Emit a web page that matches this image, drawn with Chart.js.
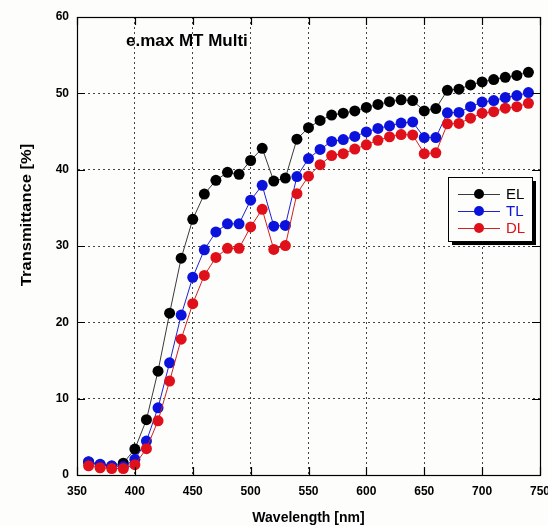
<!DOCTYPE html>
<html>
<head>
<meta charset="utf-8">
<script src="https://cdn.jsdelivr.net/npm/chart.js@4.4.1/dist/chart.umd.min.js"></script>
<style>
    html, body { margin: 0; padding: 0; background: #fdfdfb; }
    #wrap { width: 548px; height: 526px; }
</style>
</head>
<body>
<div id="wrap"><canvas id="transChart" width="548" height="526"></canvas></div>
<script>
// Wavelength grid [nm]
const wavelengths = [360, 370, 380, 390, 400, 410, 420, 430, 440, 450, 460, 470, 480, 490, 500,
    510, 520, 530, 540, 550, 560, 570, 580, 590, 600, 610, 620, 630, 640, 650,
    660, 670, 680, 690, 700, 710, 720, 730, 740];

// Transmittance [%] per series
const elValues = [1.7, 1.35, 1.15, 1.55, 3.4, 7.25, 13.6, 21.2, 28.4, 33.5, 36.8, 38.6, 39.65, 39.4, 41.2,
    42.8, 38.5, 38.9, 44.0, 45.5, 46.45, 47.15, 47.4, 47.7, 48.15, 48.55, 48.9, 49.15, 49.05, 47.7,
    48.0, 50.4, 50.55, 51.1, 51.5, 51.8, 52.1, 52.35, 52.75];
const tlValues = [1.75, 1.4, 1.2, 1.1, 2.05, 4.45, 8.8, 14.7, 20.95, 25.9, 29.5, 31.85, 32.9, 32.9, 36.0,
    37.95, 32.6, 32.7, 39.1, 41.45, 42.65, 43.7, 43.95, 44.35, 44.95, 45.4, 45.75, 46.1, 46.25, 44.2,
    44.2, 47.45, 47.5, 48.25, 48.85, 49.05, 49.45, 49.7, 50.1];
const dlValues = [1.2, 0.95, 0.85, 0.85, 1.35, 3.45, 7.1, 12.3, 17.8, 22.45, 26.15, 28.5, 29.7, 29.7, 32.5,
    34.8, 29.55, 30.05, 36.85, 39.15, 40.65, 41.85, 42.1, 42.7, 43.25, 43.85, 44.3, 44.6, 44.55, 42.1,
    42.2, 46.0, 46.05, 46.75, 47.4, 47.6, 48.05, 48.25, 48.7];

const seriesNames = ['EL', 'TL', 'DL'];
const xTicks = [350, 400, 450, 500, 550, 600, 650, 700, 750];
const yTicks = [0, 10, 20, 30, 40, 50, 60];

const chartTitle = 'e.max MT Multi';
const xTitle = 'Wavelength [nm]';
const yTitle = 'Transmittance [%]';

const FONT = 'Arial, "Liberation Sans", Helvetica, sans-serif';
const lineColors = ['#3a3a3a', '#2020d0', '#d02020'];
const dotColors = ['#000000', '#0a12dc', '#e0101a'];

function toPoints(values) {
    return wavelengths.map((w, i) => ({ x: w, y: values[i] }));
}

function makeSet(idx, values) {
    return {
        label: seriesNames[idx],
        data: toPoints(values),
        borderColor: lineColors[idx],
        borderWidth: 1,
        pointRadius: 5.5,
        pointBackgroundColor: dotColors[idx],
        pointBorderColor: dotColors[idx],
        pointBorderWidth: 0,
        tension: 0,
        order: 2 - idx   // DL on top
    };
}

// frame, inward ticks, titles and the boxed legend
const decorPlugin = {
    id: 'decor',
    afterDraw(chart) {
        const ctx = chart.ctx;
        const a = chart.chartArea;
        const xs = chart.scales.x, ys = chart.scales.y;
        ctx.save();

        // inward tick marks on all four sides
        ctx.strokeStyle = '#000';
        ctx.lineWidth = 1.2;
        const tl = 8;
        ctx.beginPath();
        xTicks.forEach(v => {
            const px = Math.round(xs.getPixelForValue(v)) + 0.5;
            ctx.moveTo(px, a.bottom); ctx.lineTo(px, a.bottom - tl);
            ctx.moveTo(px, a.top); ctx.lineTo(px, a.top + tl);
        });
        yTicks.forEach(v => {
            const py = Math.round(ys.getPixelForValue(v)) + 0.5;
            ctx.moveTo(a.left, py); ctx.lineTo(a.left + tl, py);
            ctx.moveTo(a.right, py); ctx.lineTo(a.right - tl, py);
        });
        ctx.stroke();

        // frame
        ctx.lineWidth = 1.2;
        ctx.strokeRect(Math.round(a.left) + 0.5, Math.round(a.top) + 0.5,
            Math.round(a.right - a.left), Math.round(a.bottom - a.top));

        // titles
        ctx.fillStyle = '#000';
        ctx.textAlign = 'left';
        ctx.textBaseline = 'middle';
        ctx.font = 'bold 17px ' + FONT;
        ctx.fillText(chartTitle, 126, 41);

        ctx.textAlign = 'center';
        ctx.font = 'bold 14px ' + FONT;
        ctx.fillText(xTitle, (a.left + a.right) / 2, 518);

        ctx.save();
        ctx.translate(27, 215);
        ctx.rotate(-Math.PI / 2);
        ctx.scale(1.18, 1);
        ctx.fillText(yTitle, 0, 0);
        ctx.restore();

        // legend box with shadow
        const bx = 448, by = 177, bw = 84, bh = 64;
        ctx.fillStyle = '#000';
        ctx.fillRect(bx + 4, by + 4, bw, bh);
        ctx.fillStyle = '#fdfdfb';
        ctx.fillRect(bx, by, bw, bh);
        ctx.lineWidth = 1;
        ctx.strokeStyle = '#000';
        ctx.strokeRect(bx + 0.5, by + 0.5, bw, bh);

        ctx.font = '15px ' + FONT;
        ctx.textAlign = 'left';
        seriesNames.forEach((name, i) => {
            const ry = by + 17 + i * 17;
            ctx.strokeStyle = lineColors[i];
            ctx.beginPath();
            ctx.moveTo(bx + 10, ry + 0.5);
            ctx.lineTo(bx + 52, ry + 0.5);
            ctx.stroke();
            ctx.fillStyle = dotColors[i];
            ctx.beginPath();
            ctx.arc(bx + 31, ry, 5, 0, Math.PI * 2);
            ctx.fill();
            ctx.fillText(name, bx + 58, ry + 1);
        });

        ctx.restore();
    }
};

const trCtx = document.getElementById('transChart').getContext('2d');
const transChart = new Chart(trCtx, {
    type: 'line',
    data: {
        datasets: [
            makeSet(0, elValues),
            makeSet(1, tlValues),
            makeSet(2, dlValues)
        ]
    },
    options: {
        responsive: false,
        animation: false,
        layout: { padding: { top: 17, right: 8, left: 0, bottom: 0 } },
        scales: {
            x: {
                type: 'linear',
                min: 350,
                max: 750,
                afterBuildTicks: s => { s.ticks = xTicks.map(v => ({ value: v })); },
                afterFit: s => { s.height = 51; s.paddingLeft = 0; s.paddingRight = 0; },
                grid: { color: '#444', lineWidth: 1, drawTicks: false },
                border: { display: true, color: '#000', dash: [2, 3] },
                ticks: {
                    padding: 9,
                    color: '#000',
                    maxRotation: 0,
                    font: { family: FONT, size: 12, weight: 'bold' }
                }
            },
            y: {
                min: 0,
                max: 60,
                afterBuildTicks: s => { s.ticks = yTicks.map(v => ({ value: v })); },
                afterFit: s => { s.width = 77; s.paddingTop = 0; s.paddingBottom = 0; },
                grid: { color: '#444', lineWidth: 1, drawTicks: false },
                border: { display: true, color: '#000', dash: [2, 3] },
                ticks: {
                    padding: 8,
                    color: '#000',
                    font: { family: FONT, size: 12, weight: 'bold' }
                }
            }
        },
        plugins: {
            legend: { display: false },
            tooltip: { enabled: false }
        }
    },
    plugins: [decorPlugin]
});
</script>
</body>
</html>
